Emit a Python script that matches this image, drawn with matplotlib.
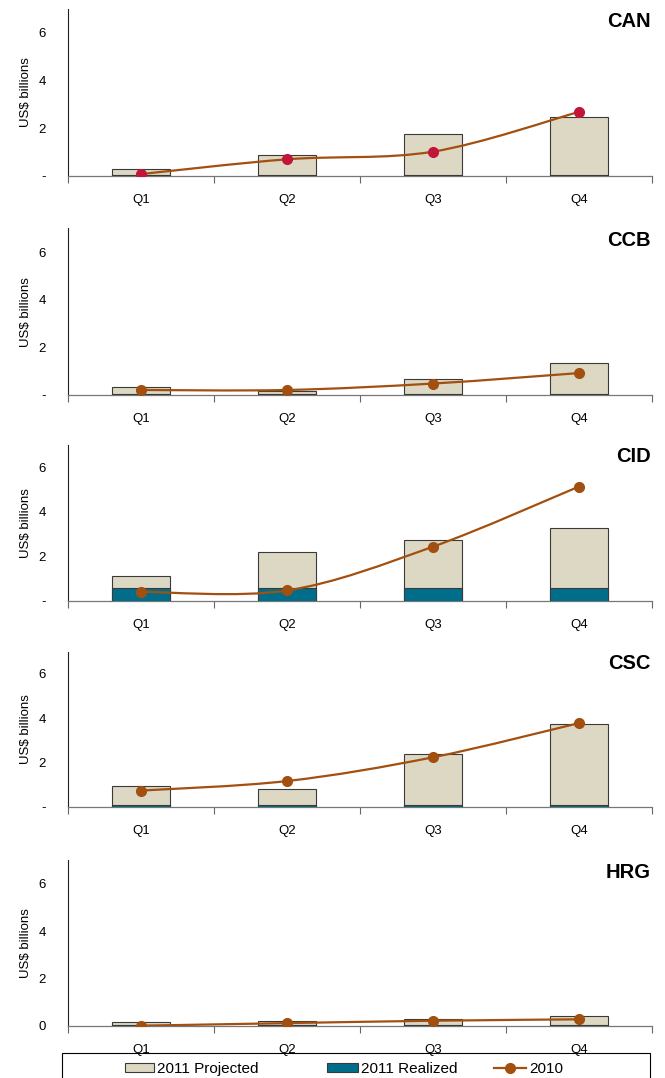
import matplotlib.pyplot as plt
import numpy as np
from matplotlib.patches import Patch, PathPatch, Rectangle
from matplotlib.lines import Line2D
from matplotlib.path import Path

plt.rcParams["font.family"] = ["Liberation Sans", "DejaVu Sans"]

quarters = ["Q1", "Q2", "Q3", "Q4"]
regions = ["CAN", "CCB", "CID", "CSC", "HRG"]

# 2011 projected totals per quarter (US$ billions)
projected_2011 = {
    "CAN": [0.27, 0.86, 1.75, 2.46],
    "CCB": [0.33, 0.18, 0.68, 1.33],
    "CID": [1.12, 2.18, 2.73, 3.25],
    "CSC": [0.93, 0.81, 2.39, 3.74],
    "HRG": [0.14, 0.18, 0.29, 0.39],
}
# 2011 realized so far
realized_2011 = {
    "CAN": [0.04, 0.04, 0.04, 0.04],
    "CCB": [0.04, 0.04, 0.04, 0.04],
    "CID": [0.60, 0.60, 0.60, 0.60],
    "CSC": [0.11, 0.11, 0.11, 0.11],
    "HRG": [0.02, 0.02, 0.02, 0.02],
}
# 2010 actuals
actual_2010 = {
    "CAN": [0.07, 0.69, 1.01, 2.68],
    "CCB": [0.21, 0.21, 0.48, 0.92],
    "CID": [0.41, 0.47, 2.43, 5.12],
    "CSC": [0.74, 1.17, 2.24, 3.78],
    "HRG": [0.00, 0.11, 0.21, 0.27],
}

BEIGE = "#DDD8C3"
TEAL = "#006E8A"
BROWN = "#A24F0F"
CRIMSON = "#C2153A"
EDGE = "#3a3a3a"

# axes boxes [left, bottom, width, height] in figure fractions
boxes = [
    [0.1025, 0.8370, 0.8775, 0.1545],
    [0.1025, 0.6336, 0.8775, 0.1545],
    [0.1025, 0.4425, 0.8775, 0.1450],
    [0.1025, 0.2514, 0.8775, 0.1440],
    [0.1025, 0.0485, 0.8775, 0.1535],
]


def smooth_path(xs, ys):
    # Bezier segments through the points, Catmull-Rom style
    pts = np.column_stack([xs, ys]).astype(float)
    verts = [pts[0]]
    codes = [Path.MOVETO]
    n = len(pts)
    for i in range(n - 1):
        p0 = pts[max(i - 1, 0)]
        p1 = pts[i]
        p2 = pts[i + 1]
        p3 = pts[min(i + 2, n - 1)]
        c1 = p1 + (p2 - p0) / 6.0
        c2 = p2 - (p3 - p1) / 6.0
        verts += [c1, c2, p2]
        codes += [Path.CURVE4, Path.CURVE4, Path.CURVE4]
    return Path(verts, codes)


fig = plt.figure(figsize=(6.65, 10.78), dpi=100)
x = np.arange(len(quarters))

for region, box in zip(regions, boxes):
    ax = fig.add_axes(box)
    ax.bar(x, projected_2011[region], width=0.4, color=BEIGE,
           edgecolor=EDGE, linewidth=0.8, zorder=2)
    ax.bar(x, realized_2011[region], width=0.4, color=TEAL,
           edgecolor=EDGE, linewidth=0.8, zorder=3)

    path = smooth_path(x, actual_2010[region])
    ax.add_patch(PathPatch(path, facecolor="none", edgecolor=BROWN,
                           linewidth=1.6, zorder=4))
    marker_color = CRIMSON if region == "CAN" else BROWN
    ax.plot(x, actual_2010[region], linestyle="none", marker="o",
            markersize=7, color=marker_color, zorder=5)

    ax.set_xlim(-0.5, 3.5)
    ax.set_ylim(0, 7)
    ax.set_yticks([0, 2, 4, 6])
    zero_label = "0" if region == "HRG" else "-"
    ax.set_yticklabels([zero_label, "2", "4", "6"])
    ax.set_xticks(x)
    ax.set_xticklabels(quarters)
    ax.set_xticks(np.arange(-0.5, 4.0, 1.0), minor=True)
    ax.tick_params(axis="x", which="major", length=0, pad=13, labelsize=9.5)
    ax.tick_params(axis="x", which="minor", length=5, width=0.8,
                   color="#666666", direction="out")
    ax.tick_params(axis="y", length=0, pad=16, labelsize=9.5)
    ax.set_ylabel("US$ billions", fontsize=9.5, labelpad=5)

    for side in ("top", "right"):
        ax.spines[side].set_visible(False)
    ax.spines["left"].set_color("#222222")
    ax.spines["bottom"].set_color("#777777")
    ax.spines["left"].set_linewidth(0.8)
    ax.spines["bottom"].set_linewidth(0.9)

    ax.text(0.998, 0.985, region, transform=ax.transAxes, ha="right",
            va="top", fontsize=14.5, fontweight="bold")

# legend: one entry per anchor so each sits where it belongs in the box
legend_items = [
    (Patch(facecolor=BEIGE, edgecolor=EDGE, linewidth=0.8,
           label="2011 Projected"), 125 / 665, 1.9),
    (Patch(facecolor=TEAL, edgecolor=EDGE, linewidth=0.8,
           label="2011 Realized"), 327 / 665, 2.0),
    (Line2D([], [], color=BROWN, linewidth=1.6, marker="o", markersize=7,
            label="2010"), 494 / 665, 2.1),
]
for handle, x0, hlen in legend_items:
    fig.legend(handles=[handle], loc="center left",
               bbox_to_anchor=(x0, 0.0085), fontsize=11, frameon=False,
               handlelength=hlen, handleheight=0.55, handletextpad=0.2,
               borderpad=0, borderaxespad=0)

fig.add_artist(Rectangle((62 / 665, -0.02), 588 / 665, 0.0432,
                         transform=fig.transFigure, facecolor="none",
                         edgecolor="black", linewidth=0.8))

fig.savefig("out.png", dpi=100)
